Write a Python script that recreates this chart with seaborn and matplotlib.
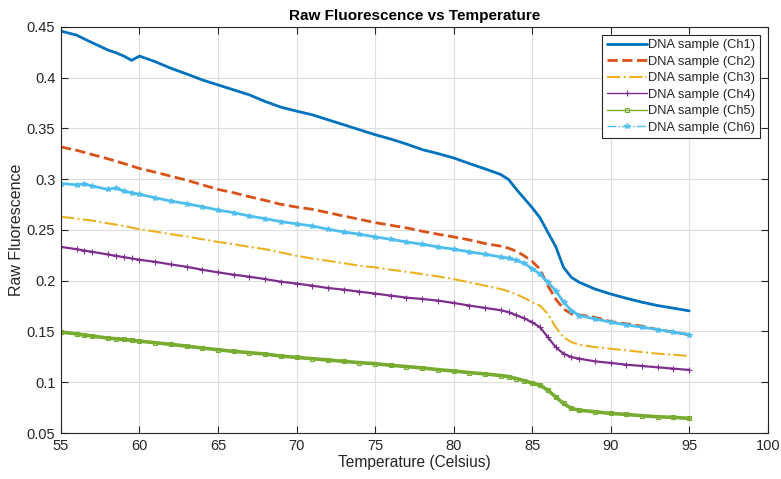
import pandas as pd
import matplotlib
matplotlib.use('Agg')
import matplotlib.pyplot as plt
import seaborn as sns

# suhu (Celsius) - titik yang dibaca dari gambar
temps = [55, 56, 56.5, 57, 58, 58.5, 59, 59.5, 60, 61, 62, 63, 64, 65, 66, 67,
         68, 69, 70, 71, 72, 73, 74, 75, 76, 77, 78, 79, 80, 81, 82, 83, 83.5,
         84, 84.5, 85, 85.5, 86, 86.5, 87, 87.5, 88, 89, 90, 91, 92, 93, 94, 95]

ch1 = [.4458, .4418, .4380, .4343, .4271, .4245, .4212, .4170, .4212, .4157, .4092,
       .4036, .3977, .3928, .3879, .3830, .3765, .3709, .3670, .3634, .3585, .3536,
       .3487, .3438, .3395, .3346, .3291, .3252, .3209, .3154, .3101, .3046, .2997,
       .2899, .2810, .2720, .2620, .2477, .2337, .2131, .2033, .1984, .1918, .1869,
       .1827, .1788, .1755, .1729, .1703]
ch2 = [.3317, .3284, .3263, .3242, .3200, .3177, .3154, .3130, .3105, .3069, .3029,
       .2990, .2944, .2899, .2866, .2827, .2791, .2752, .2725, .2703, .2670, .2637,
       .2605, .2572, .2546, .2520, .2487, .2458, .2431, .2402, .2366, .2340, .2320,
       .2290, .2245, .2190, .2114, .1951, .1820, .1722, .1673, .1663, .1640, .1598,
       .1575, .1552, .1519, .1493, .1467]
ch3 = [.2631, .2611, .2601, .2592, .2565, .2552, .2539, .2523, .2507, .2484, .2458,
       .2435, .2408, .2382, .2359, .2333, .2310, .2278, .2245, .2219, .2196, .2173,
       .2147, .2131, .2108, .2088, .2065, .2042, .2016, .1984, .1951, .1918, .1895,
       .1866, .1830, .1788, .1755, .1673, .1542, .1444, .1395, .1369, .1346, .1330,
       .1314, .1297, .1281, .1271, .1258]
ch4 = [.2333, .2310, .2297, .2284, .2258, .2245, .2232, .2219, .2206, .2186, .2160,
       .2137, .2108, .2082, .2059, .2039, .2016, .1990, .1972, .1951, .1928, .1912,
       .1892, .1873, .1853, .1833, .1820, .1804, .1781, .1755, .1732, .1709, .1690,
       .1660, .1630, .1590, .1542, .1444, .1346, .1281, .1248, .1232, .1206, .1190,
       .1173, .1160, .1147, .1134, .1121]
ch5 = [.1493, .1477, .1465, .1454, .1435, .1428, .1422, .1413, .1405, .1389, .1373,
       .1356, .1337, .1320, .1304, .1291, .1278, .1258, .1245, .1232, .1219, .1206,
       .1193, .1183, .1167, .1154, .1141, .1124, .1111, .1095, .1082, .1066, .1055,
       .1036, .1015, .0992, .0971, .0922, .0856, .0791, .0742, .0725, .0709, .0693,
       .0683, .0670, .0660, .0654, .0644]
ch6 = [.2957, .2944, .2954, .2931, .2899, .2915, .2882, .2866, .2850, .2817, .2784,
       .2758, .2729, .2696, .2670, .2637, .2611, .2582, .2560, .2539, .2507, .2480,
       .2458, .2431, .2408, .2382, .2359, .2333, .2310, .2284, .2261, .2234, .2222,
       .2200, .2170, .2120, .2065, .1984, .1902, .1788, .1706, .1657, .1624, .1592,
       .1565, .1542, .1519, .1493, .1470]

labels = ['DNA sample (Ch1)', 'DNA sample (Ch2)', 'DNA sample (Ch3)',
          'DNA sample (Ch4)', 'DNA sample (Ch5)', 'DNA sample (Ch6)']
x_ticks = [55, 60, 65, 70, 75, 80, 85, 90, 95, 100]
y_ticks = [0.05, 0.1, 0.15, 0.2, 0.25, 0.3, 0.35, 0.4, 0.45]
y_ticklabels = ['0.05', '0.1', '0.15', '0.2', '0.25', '0.3', '0.35', '0.4', '0.45']

# warna default ala MATLAB
colors = ['#0072BD', '#D95319', '#EDB120', '#7E2F8E', '#77AC30', '#4DBEEE']
# ls = gaya di legenda, ls_data = gaya di plot (marker rapat bikin garisnya tampak utuh)
styles = [
    dict(ls='-', ls_data='-', lw=2.0, marker=None, ms=0),
    dict(ls='--', ls_data='--', lw=2.0, marker=None, ms=0),
    dict(ls='-.', ls_data='-.', lw=1.5, marker=None, ms=0),
    dict(ls='-', ls_data='-', lw=1.6, marker='+', ms=4.5),
    dict(ls='-', ls_data='-', lw=2.6, marker='s', ms=3.2),
    dict(ls='-.', ls_data='-', lw=2.0, marker='*', ms=4),
]

sns.set_theme(style="whitegrid")
plt.rcParams['font.family'] = ['Liberation Sans', 'DejaVu Sans']

fig = plt.figure(figsize=(7.81, 4.79), dpi=100)
ax = fig.add_axes([0.078, 0.096, 0.905, 0.848])

series = [ch1, ch2, ch3, ch4, ch5, ch6]
for vals, lab, col, st in zip(series, labels, colors, styles):
    sns.lineplot(x=temps, y=vals, ax=ax, color=col, label=lab, sort=False)
    line = ax.lines[-1]
    # atur gaya garis & marker langsung di objek Line2D
    line.set_linestyle(st['ls_data'])
    line.set_linewidth(st['lw'])
    if st['marker']:
        line.set_marker(st['marker'])
        line.set_markersize(st['ms'])
        line.set_markeredgewidth(0.8)
        line.set_markeredgecolor(col)
        line.set_markerfacecolor('none')

ax.set_xlim(55, 100)
ax.set_ylim(0.05, 0.45)
ax.set_xticks(x_ticks)
ax.set_yticks(y_ticks)
ax.set_yticklabels(y_ticklabels)
ax.set_facecolor('white')
ax.grid(True, color='#dfdfdf', linewidth=0.8)
for sp in ax.spines.values():
    sp.set_color('#262626')
    sp.set_linewidth(0.8)
ax.tick_params(direction='in', length=5, width=0.8, color='#262626',
               labelsize=10.5, labelcolor='#262626', top=True, right=True,
               bottom=True, left=True, pad=4)

ax.set_title('Raw Fluorescence vs Temperature', fontsize=11, fontweight='bold',
             color='#000000', pad=5)
ax.set_xlabel('Temperature (Celsius)', fontsize=11.2, color='#262626', labelpad=2)
ax.set_ylabel('Raw Fluorescence', fontsize=11.5, color='#262626', labelpad=2)

leg = ax.legend(loc='upper right', fontsize=9.3, frameon=True, fancybox=False,
                handlelength=3.1, handletextpad=0.1, borderpad=0.35,
                labelspacing=0.35, borderaxespad=0.6)
leg.get_frame().set_edgecolor('#262626')
leg.get_frame().set_linewidth(0.8)
leg.get_frame().set_alpha(1)
# handle legenda: garis tipis + gaya aslinya
for h, st in zip(leg.legend_handles, styles):
    h.set_linestyle(st['ls'])
    if st['marker']:
        h.set_linewidth(1.0)

fig.savefig('out.png', dpi=100)
plt.close(fig)
